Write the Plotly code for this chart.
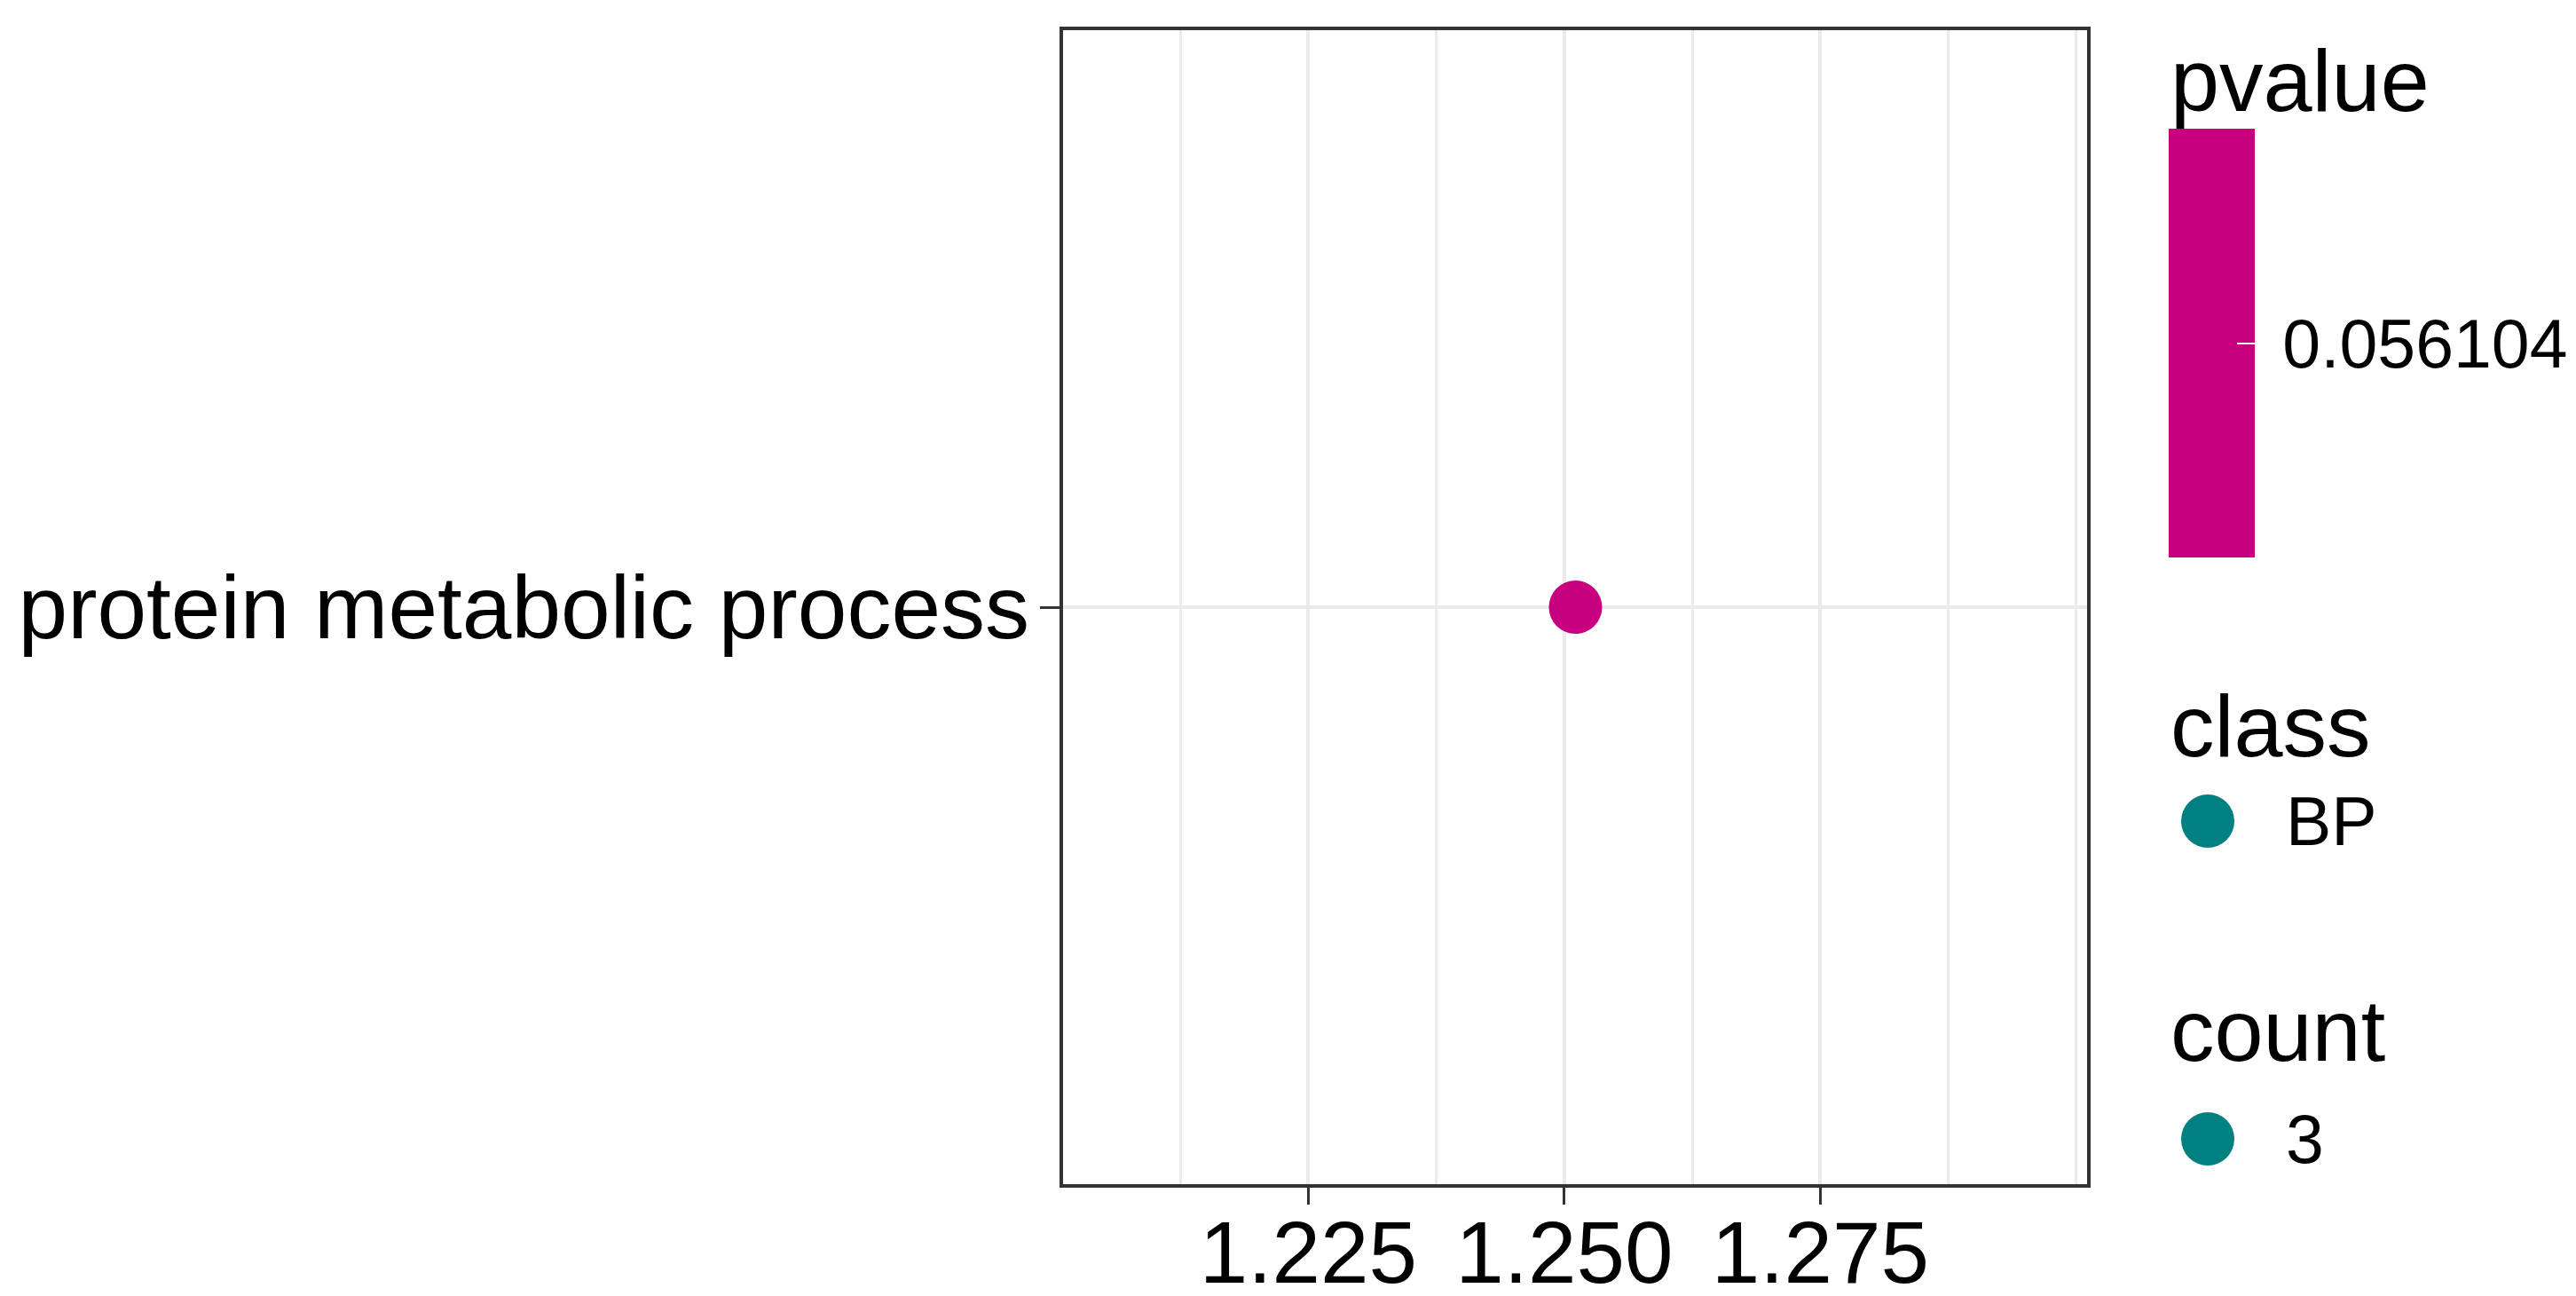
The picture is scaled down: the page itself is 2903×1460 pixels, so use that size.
import plotly.graph_objects as go

# 数据
terms = ["protein metabolic process"]
rich_factor = [1.2511]
pvalues = [0.056104]
classes = ["BP"]
counts = [3]

x_ticks = [1.225, 1.250, 1.275]
x_tick_text = ["1.225", "1.250", "1.275"]
x_minor = [1.2125, 1.2375, 1.2625, 1.2875, 1.300]

MAGENTA = "#C7007F"
TEAL = "#008080"
FONT = "Liberation Sans, Arial, Helvetica, sans-serif"

W, H = 2903, 1460
L, R, T, B = 1190, 2344, 26, 1326  # 绘图区像素位置


def px_x(v):
    return (v - L) / (R - L)


def px_y(v):
    return (B - v) / (B - T)


fig = go.Figure()

p = pvalues[0]
fig.add_trace(go.Scatter(
    x=rich_factor,
    y=terms,
    mode="markers",
    marker=dict(
        size=60,
        color=pvalues,
        colorscale=[[0, MAGENTA], [1, MAGENTA]],
        cmin=p * 0.9,
        cmax=p * 1.1,
        showscale=True,
        colorbar=dict(
            thickness=97, thicknessmode="pixels",
            len=483, lenmode="pixels",
            x=2436 / W, xref="container", xanchor="left",
            y=1 - 154 / H, yref="container", yanchor="top",
            xpad=0, ypad=0, outlinewidth=0,
            ticks="inside", ticklen=20, tickwidth=2, tickcolor="white",
            tickvals=pvalues, ticktext=["\u2009" + f"{v:.6f}" for v in pvalues],
            tickfont=dict(size=77, color="black", family=FONT),
        ),
    ),
    showlegend=False,
    hoverinfo="skip",
))

# 色条左侧的白色刻度
fig.add_shape(type="line", xref="paper", yref="paper",
              x0=px_x(2436), x1=px_x(2456), y0=px_y(395.5), y1=px_y(395.5),
              line=dict(color="white", width=2))

# 图例标题
legend_titles = [("pvalue", 82), ("class", 809), ("count", 1152)]
for txt, yc in legend_titles:
    fig.add_annotation(text=txt, xref="paper", yref="paper",
                       x=px_x(2436), y=px_y(yc), xanchor="left", yanchor="middle",
                       showarrow=False, font=dict(size=99, color="black", family=FONT))

# 图例条目：class 和 count
legend_items = [(classes[0], 917), (str(counts[0]), 1275)]
for label, yc in legend_items:
    fig.add_shape(type="circle", xref="paper", yref="paper",
                  xsizemode="pixel", ysizemode="pixel",
                  xanchor=px_x(2480), yanchor=px_y(yc),
                  x0=-30, x1=30, y0=-30, y1=30,
                  fillcolor=TEAL, line=dict(width=0))
    fig.add_annotation(text=label, xref="paper", yref="paper",
                       x=px_x(2566), y=px_y(yc), xanchor="left", yanchor="middle",
                       showarrow=False, font=dict(size=77, color="black", family=FONT))

fig.update_layout(
    width=W, height=H,
    margin=dict(l=L, r=W - R, t=T, b=H - B, autoexpand=False),
    plot_bgcolor="white",
    paper_bgcolor="white",
    font=dict(family=FONT, color="black"),
    xaxis=dict(
        range=[1.20106, 1.30106],
        tickvals=x_ticks, ticktext=x_tick_text,
        tickfont=dict(size=98, color="black"),
        ticks="outside", ticklen=19, tickwidth=3, tickcolor="#333333",
        ticklabelstandoff=-30,
        showgrid=True, gridcolor="#EBEBEB", gridwidth=4,
        minor=dict(tickvals=x_minor, showgrid=True, gridcolor="#EBEBEB",
                   gridwidth=2.5, ticks=""),
        showline=True, linecolor="#333333", linewidth=4, mirror=True,
        zeroline=False, automargin=False,
    ),
    yaxis=dict(
        type="category",
        range=[-0.6, 0.6],
        tickfont=dict(size=100, color="black"),
        ticks="outside", ticklen=22, tickwidth=3, tickcolor="#333333",
        ticklabelstandoff=-8,
        showgrid=True, gridcolor="#EBEBEB", gridwidth=4,
        showline=True, linecolor="#333333", linewidth=4, mirror=True,
        zeroline=False, automargin=False,
    ),
)

fig.write_html("out.html")
